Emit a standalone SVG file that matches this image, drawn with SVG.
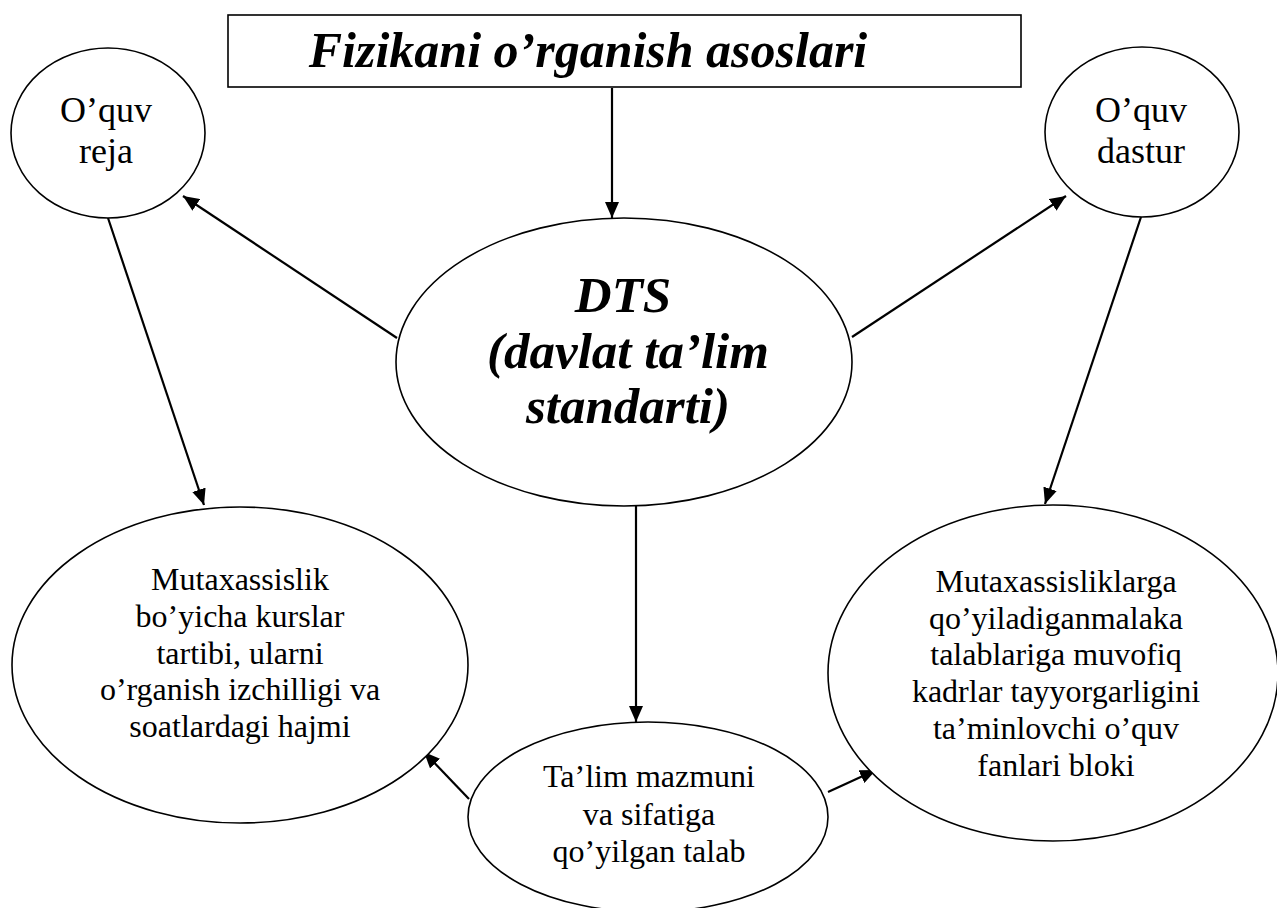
<svg xmlns="http://www.w3.org/2000/svg" width="1277" height="908" viewBox="0 0 1277 908">
<style>
.shape{fill:#fff;stroke:#000;stroke-width:1.6}
.con{stroke:#000;stroke-width:2.2;fill:none}
.t{font-family:"Liberation Serif","Times New Roman",serif;fill:#000;text-anchor:middle}
.bi{font-weight:bold;font-style:italic}
.small{font-size:36px}
.mid{font-size:32px}
</style>
<defs>
<marker id="ah" markerUnits="userSpaceOnUse" markerWidth="18" markerHeight="14" refX="16" refY="7" orient="auto">
<path d="M0,0 L16,7 L0,14 Z" fill="#000"/>
</marker>
</defs>
<rect width="1277" height="908" fill="#fff"/>
<g id="connectors">
<line class="con" x1="612" y1="88" x2="612" y2="218" marker-end="url(#ah)"/>
<line class="con" x1="397" y1="338" x2="183" y2="196" marker-end="url(#ah)"/>
<line class="con" x1="852" y1="337" x2="1066" y2="196" marker-end="url(#ah)"/>
<line class="con" x1="108" y1="218" x2="204" y2="505" marker-end="url(#ah)"/>
<line class="con" x1="1141" y1="217" x2="1045" y2="504" marker-end="url(#ah)"/>
<line class="con" x1="636" y1="505" x2="636" y2="722" marker-end="url(#ah)"/>
<line class="con" x1="469" y1="799" x2="424" y2="752" marker-end="url(#ah)"/>
<line class="con" x1="828" y1="792" x2="876" y2="770" marker-end="url(#ah)"/>
</g>
<g id="title">
<rect class="shape" x="228" y="15" width="793" height="72"/>
<text class="t bi" x="588" y="67" font-size="50">Fizikani o’rganish asoslari</text>
</g>
<g id="oquv-reja">
<ellipse class="shape" cx="108" cy="133" rx="97" ry="85"/>
<text class="t small" x="106" y="122">O’quv</text>
<text class="t small" x="106" y="163">reja</text>
</g>
<g id="oquv-dastur">
<ellipse class="shape" cx="1142" cy="132" rx="97" ry="85"/>
<text class="t small" x="1141" y="122">O’quv</text>
<text class="t small" x="1141" y="163">dastur</text>
</g>
<g id="dts">
<ellipse class="shape" cx="624" cy="362" rx="228" ry="144"/>
<text class="t bi" x="623" y="312" font-size="51">DTS</text>
<text class="t bi" x="628" y="368" font-size="51">(davlat ta’lim</text>
<text class="t bi" x="628" y="423" font-size="51">standarti)</text>
</g>
<g id="mutaxassislik">
<ellipse class="shape" cx="240" cy="665" rx="228" ry="158"/>
<text class="t mid" x="240" y="590">Mutaxassislik</text>
<text class="t mid" x="240" y="627">bo’yicha kurslar</text>
<text class="t mid" x="240" y="664">tartibi, ularni</text>
<text class="t mid" x="240" y="700">o’rganish izchilligi va</text>
<text class="t mid" x="240" y="737">soatlardagi hajmi</text>
</g>
<g id="mutaxassisliklarga">
<ellipse class="shape" cx="1053" cy="673" rx="225" ry="168"/>
<text class="t mid" x="1056" y="592">Mutaxassisliklarga</text>
<text class="t mid" x="1056" y="629">qo’yiladiganmalaka</text>
<text class="t mid" x="1056" y="665">talablariga muvofiq</text>
<text class="t mid" x="1056" y="702">kadrlar tayyorgarligini</text>
<text class="t mid" x="1056" y="739">ta’minlovchi o’quv</text>
<text class="t mid" x="1056" y="776">fanlari bloki</text>
</g>
<g id="talab">
<ellipse class="shape" cx="648" cy="817" rx="180" ry="95"/>
<text class="t mid" x="649" y="787">Ta’lim mazmuni</text>
<text class="t mid" x="649" y="825">va sifatiga</text>
<text class="t mid" x="649" y="862">qo’yilgan talab</text>
</g>
</svg>
